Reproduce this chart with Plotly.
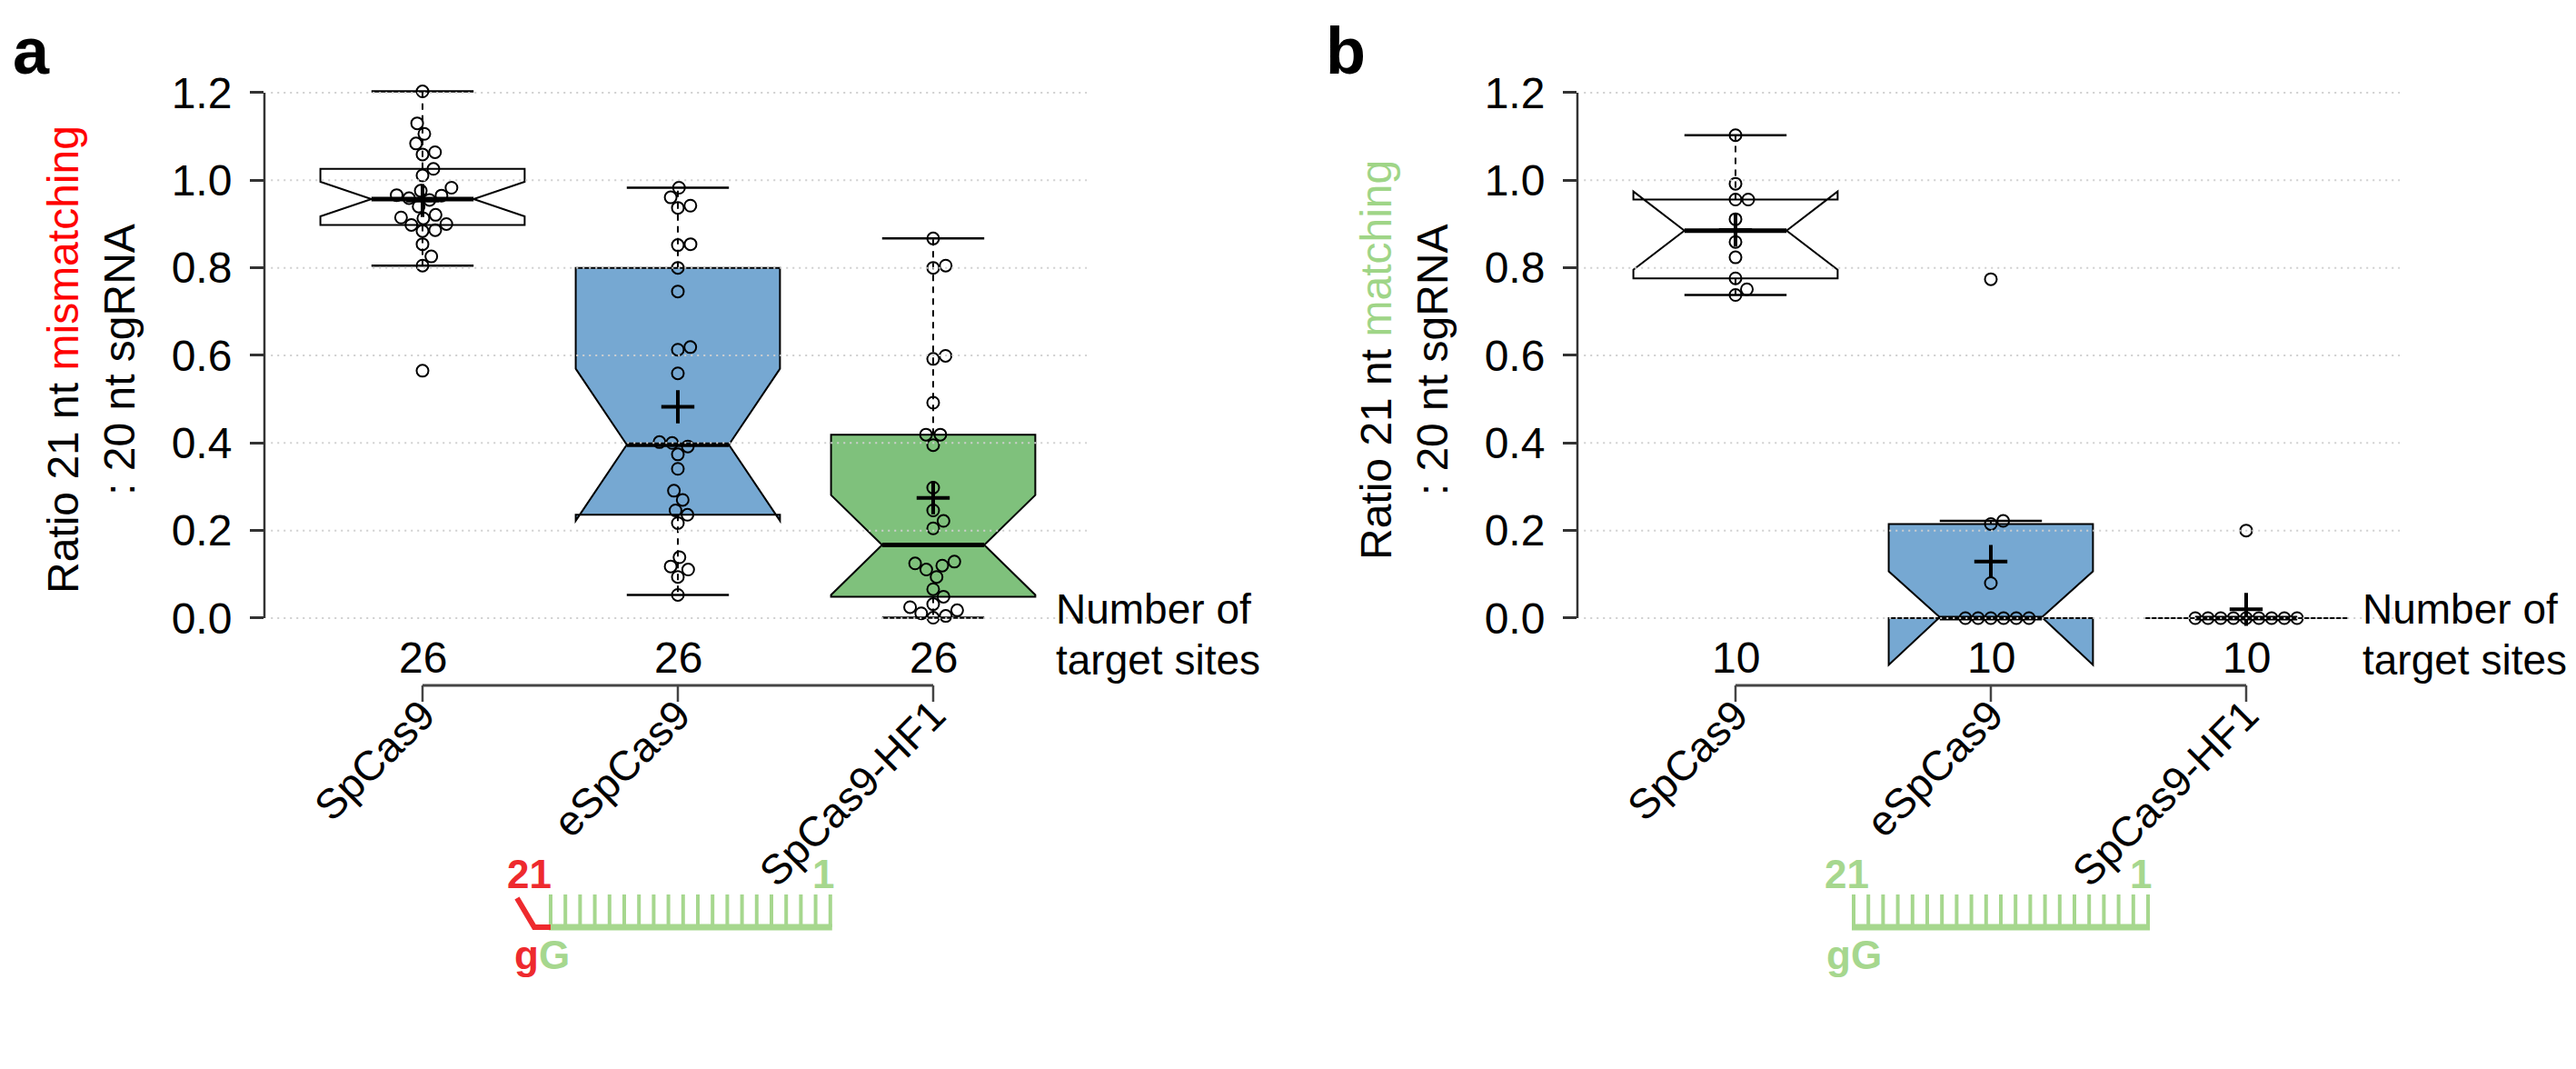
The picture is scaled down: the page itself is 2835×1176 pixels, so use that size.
import numpy as np
import plotly.graph_objects as go

W, H = 2835, 1176

# ---------------- data ----------------
categories = ["SpCas9", "eSpCas9", "SpCas9-HF1"]
y_ticks = [0.0, 0.2, 0.4, 0.6, 0.8, 1.0, 1.2]
y_tick_text = ["0.0", "0.2", "0.4", "0.6", "0.8", "1.0", "1.2"]

a_spcas9 = [1.203, 1.130, 1.106, 1.084, 1.064, 1.059, 1.026, 1.011, 0.983, 0.976,
            0.966, 0.965, 0.959, 0.955, 0.940, 0.921, 0.915, 0.913, 0.900, 0.898,
            0.886, 0.884, 0.854, 0.826, 0.805, 0.565]
a_espcas9 = [0.983, 0.961, 0.942, 0.937, 0.854, 0.852, 0.800, 0.746, 0.619, 0.613,
             0.559, 0.402, 0.400, 0.392, 0.374, 0.341, 0.291, 0.270, 0.246, 0.236,
             0.217, 0.139, 0.118, 0.111, 0.094, 0.053]
a_hf1 = [0.867, 0.805, 0.800, 0.599, 0.592, 0.492, 0.419, 0.419, 0.395, 0.298,
         0.246, 0.222, 0.205, 0.129, 0.125, 0.120, 0.111, 0.094, 0.066, 0.049,
         0.032, 0.025, 0.018, 0.011, 0.005, 0.001]

b_spcas9 = [1.103, 0.992, 0.956, 0.956, 0.911, 0.859, 0.824, 0.776, 0.751, 0.738]
b_espcas9 = [0.774, 0.222, 0.215, 0.080, 0.0, 0.0, 0.0, 0.0, 0.0, 0.0]
b_hf1 = [0.200, 0.0, 0.0, 0.0, 0.0, 0.0, 0.0, 0.0, 0.0, 0.0]

panel_a = [a_spcas9, a_espcas9, a_hf1]
panel_b = [b_spcas9, b_espcas9, b_hf1]

# ---------------- styling / geometry ----------------
FONT = "Liberation Sans, Arial, Helvetica, sans-serif"
FS = 48
fills = ["#ffffff", "#76a8d2", "#7fc17c"]
RED = "#ff0000"
LGREEN = "#9fd587"
DRED = "#ee2a2e"
DGREEN = "#a6d78e"

XPX = 281.0   # px per category unit
YPX = 481.7   # px per y unit
ZERO_PX = 672
x_rng = [1 - 174 / XPX, 1 + 731 / XPX]
y_rng = [-0.14, 1.26]
y_top_px = ZERO_PX - y_rng[1] * YPX
y_bot_px = ZERO_PX - y_rng[0] * YPX
y_dom = [1 - y_bot_px / H, 1 - y_top_px / H]
SHIFT = 1445


def px(x):
    return x / W


def py(y):
    return 1 - y / H


def hinges(v):
    s = np.sort(np.asarray(v, dtype=float))
    n = len(s)
    med = np.median(s)
    lower = s[: n // 2]
    upper = s[(n + 1) // 2:]
    return np.median(lower), med, np.median(upper)


def swarm(vals, d=14.0):
    vals = np.asarray(vals, dtype=float)
    order = np.argsort(vals, kind="stable")
    placed = []
    offs = np.zeros(len(vals))
    for i in order:
        yv = vals[i] * YPX
        cands = [0.0]
        for (qx, qy) in placed:
            dy = abs(qy - yv)
            if dy < d:
                dx = np.sqrt(d * d - dy * dy)
                cands += [qx + dx, qx - dx]
        cands = sorted(set(cands), key=lambda c: (round(abs(c), 6), -c))
        for c in cands:
            if all((c - qx) ** 2 + (yv - qy) ** 2 >= d * d - 1e-6 for qx, qy in placed):
                offs[i] = c
                placed.append((c, yv))
                break
    return offs / XPX


fig = go.Figure()
shapes = []
annotations = []


def add_panel(data, xa, ya, xoff, title_html, letter, txt_x):
    xref = xa
    yref = ya
    for i, vals in enumerate(data):
        pos = i + 1
        fig.add_trace(go.Box(
            x=[pos] * len(vals), y=vals, xaxis=xa, yaxis=ya,
            notched=True, notchwidth=0.25, width=0.8,
            quartilemethod="exclusive", boxpoints=False, showwhiskers=False,
            fillcolor=fills[i], line=dict(color="black", width=2),
            showlegend=False, hoverinfo="skip"))
    for i, vals in enumerate(data):
        pos = i + 1
        v = np.asarray(vals, dtype=float)
        q1, med, q3 = hinges(v)
        iqr = q3 - q1
        hi = v[v <= q3 + 1.5 * iqr].max()
        lo = v[v >= q1 - 1.5 * iqr].min()
        fig.add_trace(go.Scatter(
            x=[pos, pos, None, pos, pos], y=[q3, hi, None, q1, lo],
            mode="lines", line=dict(color="black", width=2, dash="7px,6px"),
            xaxis=xa, yaxis=ya, showlegend=False, hoverinfo="skip"))
        fig.add_trace(go.Scatter(
            x=[pos - 0.2, pos + 0.2, None, pos - 0.2, pos + 0.2], y=[hi, hi, None, lo, lo],
            mode="lines", line=dict(color="black", width=2.5),
            xaxis=xa, yaxis=ya, showlegend=False, hoverinfo="skip"))
        fig.add_trace(go.Scatter(
            x=[pos - 0.2, pos + 0.2], y=[med, med], mode="lines",
            line=dict(color="black", width=5),
            xaxis=xa, yaxis=ya, showlegend=False, hoverinfo="skip"))
        offs = swarm(v)
        fig.add_trace(go.Scatter(
            x=pos + offs, y=v, mode="markers",
            marker=dict(symbol="circle-open", size=13, color="black",
                        line=dict(width=2, color="black")),
            xaxis=xa, yaxis=ya, showlegend=False, hoverinfo="skip"))
        fig.add_trace(go.Scatter(
            x=[pos], y=[v.mean()], mode="markers",
            marker=dict(symbol="cross-thin-open", size=26, color="black",
                        line=dict(width=4, color="black")),
            xaxis=xa, yaxis=ya, showlegend=False, hoverinfo="skip"))
        annotations.append(dict(
            x=pos, xref=xref, y=py(715), yref="paper", text=str(len(vals)),
            showarrow=False, xanchor="center", yanchor="middle",
            font=dict(family=FONT, size=FS, color="black")))
        shapes.append(dict(type="line", xref=xref, yref="paper",
                           x0=pos, x1=pos, y0=py(746), y1=py(764),
                           line=dict(color="#444444", width=2.5)))
    shapes.append(dict(type="line", xref=xref, yref="paper",
                       x0=1, x1=len(data), y0=py(746), y1=py(746),
                       line=dict(color="#444444", width=3)))
    shapes.append(dict(type="line", xref=xref + " domain", yref=yref,
                       x0=0, x1=0, y0=y_ticks[0], y1=y_ticks[-1],
                       line=dict(color="#333333", width=2.5)))
    for t in y_ticks:
        shapes.append(dict(type="line", xref=xref + " domain", yref=yref,
                           x0=0.008, x1=1, y0=t, y1=t, layer="above",
                           line=dict(color="#cfcfcf", width=2, dash="2px,5px")))
    annotations.append(dict(
        x=px(92 + xoff), xref="paper", y=py(388), yref="paper",
        text=title_html, textangle=-90, showarrow=False,
        xanchor="center", yanchor="middle", align="center",
        font=dict(family=FONT, size=FS, color="black")))
    annotations.append(dict(
        x=px(txt_x), xref="paper", y=py(662), yref="paper",
        text="Number of", showarrow=False, xanchor="left", yanchor="middle",
        font=dict(family=FONT, size=46, color="black")))
    annotations.append(dict(
        x=px(txt_x), xref="paper", y=py(718), yref="paper",
        text="target sites", showarrow=False, xanchor="left", yanchor="middle",
        font=dict(family=FONT, size=46, color="black")))
    annotations.append(dict(
        x=px(xoff + 4), xref="paper", y=py(6), yref="paper",
        text="<b>%s</b>" % letter, showarrow=False, xanchor="left", yanchor="top",
        font=dict(family=FONT, size=72, color="black")))


add_panel(panel_a, "x", "y", 0,
          "Ratio 21 nt <span style='color:%s'>mismatching</span><br>: 20 nt sgRNA" % RED, "a", 1152)
add_panel(panel_b, "x2", "y2", SHIFT,
          "Ratio 21 nt <span style='color:%s'>matching</span><br>: 20 nt sgRNA" % LGREEN, "b", 2590)


# ---------------- sgRNA schematics ----------------
def schematic(x_left_comb, n_teeth, mismatch):
    step = 16.2
    x_last = x_left_comb + (n_teeth - 1) * step
    y21, tooth_top, bar_y, ygg = 953, 976, 1012, 1042
    for k in range(n_teeth):
        xx = x_left_comb + k * step
        shapes.append(dict(type="line", xref="paper", yref="paper",
                           x0=px(xx), x1=px(xx), y0=py(tooth_top), y1=py(bar_y),
                           line=dict(color=DGREEN, width=4)))
    shapes.append(dict(type="line", xref="paper", yref="paper",
                       x0=px(x_left_comb - 2), x1=px(x_last + 2), y0=py(bar_y), y1=py(bar_y),
                       line=dict(color=DGREEN, width=7)))
    if mismatch:
        x21 = x_left_comb - 24
        shapes.append(dict(type="path", xref="paper", yref="paper",
                           path="M %f,%f L %f,%f L %f,%f" % (
                               px(x_left_comb - 37), py(980), px(x_left_comb - 18), py(bar_y),
                               px(x_left_comb), py(bar_y)),
                           line=dict(color=DRED, width=6)))
        c21 = DRED
        gtxt = "<span style='color:%s'>g</span><span style='color:%s'>G</span>" % (DRED, DGREEN)
        gx = x_left_comb - 42
    else:
        x21 = x_left_comb - 8
        c21 = DGREEN
        gtxt = "<span style='color:%s'>gG</span>" % DGREEN
        gx = x_left_comb - 32
    annotations.append(dict(x=px(x21), xref="paper", y=py(y21), yref="paper",
                            text="<b>21</b>", showarrow=False, xanchor="center", yanchor="middle",
                            font=dict(family=FONT, size=44, color=c21)))
    annotations.append(dict(x=px(x_last - 8), xref="paper", y=py(y21), yref="paper",
                            text="<b>1</b>", showarrow=False, xanchor="center", yanchor="middle",
                            font=dict(family=FONT, size=44, color=DGREEN)))
    annotations.append(dict(x=px(gx), xref="paper", y=py(ygg), yref="paper",
                            text="<b>%s</b>" % gtxt, showarrow=False, xanchor="left", yanchor="middle",
                            font=dict(family=FONT, size=44, color=DGREEN)))


schematic(598, 20, True)
schematic(2032, 21, False)

# ---------------- axes ----------------
xa_common = dict(range=x_rng, showgrid=False, zeroline=False, showline=False,
                 tickmode="array", tickvals=[1, 2, 3], ticktext=categories,
                 tickangle=-45, ticks="", ticklabelstandoff=2,
                 tickfont=dict(family=FONT, size=46, color="black"), fixedrange=True)
ya_common = dict(range=y_rng, domain=y_dom, showgrid=False, zeroline=False, showline=False,
                 tickmode="array", tickvals=y_ticks, ticktext=y_tick_text,
                 ticks="outside", ticklen=15, tickwidth=2.5, tickcolor="#333333",
                 ticklabelstandoff=10,
                 tickfont=dict(family=FONT, size=FS, color="black"), fixedrange=True)

fig.update_layout(
    width=W, height=H, margin=dict(l=0, r=0, t=0, b=0),
    paper_bgcolor="white", plot_bgcolor="white", boxmode="overlay",
    xaxis=dict(domain=[px(283), px(1188)], anchor="y", **xa_common),
    yaxis=dict(anchor="x", **ya_common),
    xaxis2=dict(domain=[px(283 + SHIFT), px(1188 + SHIFT)], anchor="y2", **xa_common),
    yaxis2=dict(anchor="x2", **ya_common),
    shapes=shapes, annotations=annotations, showlegend=False,
)

fig.write_html("out.html")
